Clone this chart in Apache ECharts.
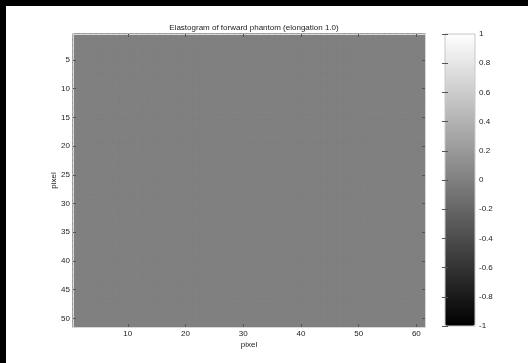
<!DOCTYPE html>
<html>
<head>
<meta charset="utf-8">
<script src="https://cdn.jsdelivr.net/npm/echarts@6/dist/echarts.min.js"></script>
<style>
  html, body { margin: 0; padding: 0; background: #fff; overflow: hidden; }
  #chart { position: absolute; left: 6px; top: 6px; width: 522px; height: 357px; background: #fff; }
  .edge { position: absolute; background: #000; }
  #edgeTop { left: 0; top: 0; width: 528px; height: 6px; }
  #edgeLeft { left: 0; top: 0; width: 6px; height: 363px; }
</style>
</head>
<body>
<div id="chart"></div>
<div class="edge" id="edgeTop"></div>
<div class="edge" id="edgeLeft"></div>
<script>
// Image size of the elastogram (pixels)
const nCols = 61;
const nRows = 51;
// Column / row indices (1-based, as in the image)
const colIndex = Array.from({ length: nCols }, (_, i) => i + 1);
const rowIndex = Array.from({ length: nRows }, (_, i) => i + 1);
// Tick labels
const xTickLabels = [10, 20, 30, 40, 50, 60];
const yTickLabels = [5, 10, 15, 20, 25, 30, 35, 40, 45, 50];
const colorbarTicks = [-1, -0.8, -0.6, -0.4, -0.2, 0, 0.2, 0.4, 0.6, 0.8, 1];
// Strain field: the forward phantom with elongation 1.0 has zero strain everywhere
const strainRows = rowIndex.map(() => colIndex.map(() => 0));

// Gray colormap, -1 -> black, 1 -> white
const CMIN = -1, CMAX = 1;
const grayMap = ['#000000', '#ffffff'];
const grayOf = v => echarts.color.lerp((v - CMIN) / (CMAX - CMIN), grayMap);

// Cells get a border in their own colour so neighbouring cells meet without seams
const cells = [];
strainRows.forEach((row, r) => row.forEach((v, c) => cells.push({
  value: [c, r, v],
  itemStyle: { borderColor: grayOf(v), borderWidth: 0.8 }
})));

const FONT = 'Liberation Sans, Arial, sans-serif';
const TXT = '#222';
const xShow = (i, v) => xTickLabels.includes(Number(v));
const yShow = (i, v) => yTickLabels.includes(Number(v));

const tickStyle = { show: true, inside: true, length: 3, lineStyle: { color: '#555', width: 1 } };
const lineStyle = { show: true, lineStyle: { color: '#d8d8d8', width: 1 } };

const chart = echarts.init(document.getElementById('chart'), null, { renderer: 'canvas' });
chart.setOption({
  animation: false,
  backgroundColor: '#fff',
  title: {
    text: 'Elastogram of forward phantom (elongation 1.0)',
    left: 243, top: 13, textAlign: 'center',
    textStyle: { fontFamily: FONT, fontSize: 8, fontWeight: 'normal', color: TXT }
  },
  grid: [
    { left: 67, top: 28, width: 352, height: 293, show: false },
    { left: 439, top: 28, width: 30, height: 292, show: true, borderColor: '#c8c8c8', borderWidth: 1, z: 10 }
  ],
  xAxis: [
    {
      type: 'category', data: colIndex, gridIndex: 0, position: 'bottom',
      name: 'pixel', nameLocation: 'middle', nameGap: 14, nameMoveOverlap: false,
      nameTextStyle: { fontFamily: FONT, fontSize: 8, color: TXT },
      axisLine: lineStyle,
      axisTick: Object.assign({ alignWithLabel: true, interval: xShow }, tickStyle),
      axisLabel: { interval: xShow, margin: 3, fontFamily: FONT, fontSize: 8, color: TXT },
      splitLine: { show: false }, z: 10
    },
    {
      type: 'category', data: colIndex, gridIndex: 0, position: 'top',
      axisLine: lineStyle,
      axisTick: Object.assign({ alignWithLabel: true, interval: xShow }, tickStyle),
      axisLabel: { show: false }, splitLine: { show: false }, z: 10
    },
    {
      type: 'value', gridIndex: 1, min: 0, max: 1, show: false
    }
  ],
  yAxis: [
    {
      type: 'category', data: rowIndex, gridIndex: 0, position: 'left', inverse: true,
      name: 'pixel', nameLocation: 'middle', nameGap: 15, nameRotate: 90, nameMoveOverlap: false,
      nameTextStyle: { fontFamily: FONT, fontSize: 8, color: TXT },
      axisLine: lineStyle,
      axisTick: Object.assign({ alignWithLabel: true, interval: yShow }, tickStyle),
      axisLabel: { interval: yShow, margin: 3, fontFamily: FONT, fontSize: 8, color: TXT },
      splitLine: { show: false }, z: 10
    },
    {
      type: 'category', data: rowIndex, gridIndex: 0, position: 'right', inverse: true,
      axisLine: lineStyle,
      axisTick: Object.assign({ alignWithLabel: true, interval: yShow }, tickStyle),
      axisLabel: { show: false }, splitLine: { show: false }, z: 10
    },
    {
      type: 'value', gridIndex: 1, position: 'right', min: CMIN, max: CMAX, interval: 0.2,
      axisLine: { show: false },
      axisTick: tickStyle,
      axisLabel: {
        margin: 4, fontFamily: FONT, fontSize: 8, color: TXT,
        formatter: v => {
          const r = Math.round(v * 10) / 10;
          return colorbarTicks.includes(r) ? String(r) : '';
        }
      },
      splitLine: { show: false }, z: 10
    },
    {
      type: 'value', gridIndex: 1, position: 'left', min: CMIN, max: CMAX, interval: 0.2,
      axisLine: { show: false },
      axisTick: tickStyle,
      axisLabel: { show: false },
      splitLine: { show: false }, z: 10
    }
  ],
  visualMap: {
    type: 'continuous', seriesIndex: 0, min: CMIN, max: CMAX,
    orient: 'vertical', left: 439, top: 28, padding: 0,
    itemWidth: 30, itemHeight: 292, calculable: false, text: null,
    showLabel: false,
    inRange: { color: grayMap }
  },
  series: [{
    type: 'heatmap', xAxisIndex: 0, yAxisIndex: 0,
    data: cells, progressive: 0,
    emphasis: { disabled: true }
  }]
});
</script>
</body>
</html>
